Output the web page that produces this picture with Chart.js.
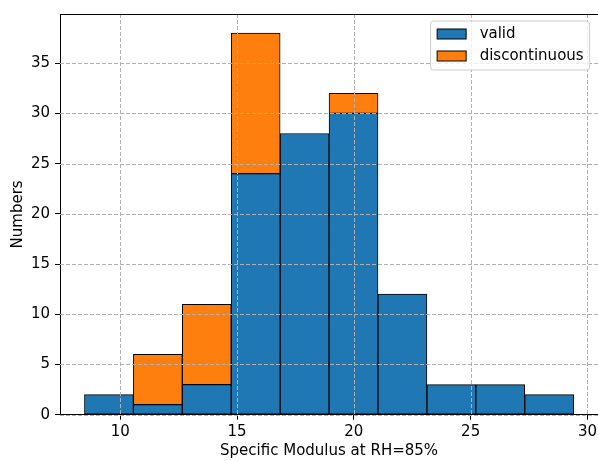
<!DOCTYPE html>
<html>
<head>
<meta charset="utf-8">
<script src="https://cdn.jsdelivr.net/npm/chart.js@4.4.0/dist/chart.umd.min.js"></script>
<style>
  html, body { margin: 0; padding: 0; background: #fff; overflow: hidden; }
</style>
</head>
<body>
<canvas id="hist" width="600" height="461"></canvas>
<script>
// histogram bins (edges)
const binEdges = [8.47, 10.564, 12.658, 14.752, 16.846, 18.94, 21.034, 23.128, 25.222, 27.316, 29.41];
const validCounts = [2, 1, 3, 24, 28, 30, 12, 3, 3, 2];
const discontinuousCounts = [0, 5, 8, 14, 0, 2, 0, 0, 0, 0];
const seriesNames = ['valid', 'discontinuous'];
const xTicks = [10, 15, 20, 25, 30];
const yTicks = [0, 5, 10, 15, 20, 25, 30, 35];

const BLUE = '#1f77b4';
const ORANGE = '#ff7f0e';
const FONT = { family: "'DejaVu Sans', sans-serif", size: 15 };

const centers = validCounts.map((_, i) => (binEdges[i] + binEdges[i + 1]) / 2);
const span = binEdges[binEdges.length - 1] - binEdges[0];
const totals = validCounts.map((v, i) => v + discontinuousCounts[i]);

// matplotlib-like grid drawn over the bars, top spine and boxed legend
const overlay = {
  id: 'overlay',
  afterDatasetsDraw(chart) {
    const { ctx, chartArea: a, scales: { x, y } } = chart;
    ctx.save();
    ctx.strokeStyle = '#b0b0b0';
    ctx.lineWidth = 1;
    ctx.setLineDash([4, 2]);
    xTicks.forEach(v => {
      const px = Math.round(x.getPixelForValue(v)) + 0.5;
      ctx.beginPath(); ctx.moveTo(px, a.top); ctx.lineTo(px, a.bottom); ctx.stroke();
    });
    yTicks.forEach(v => {
      const py = Math.round(y.getPixelForValue(v)) + 0.5;
      ctx.beginPath(); ctx.moveTo(a.left, py); ctx.lineTo(a.right, py); ctx.stroke();
    });
    ctx.setLineDash([]);
    ctx.strokeStyle = '#000';
    const top = Math.round(a.top) + 0.5;
    ctx.beginPath(); ctx.moveTo(a.left, top); ctx.lineTo(a.right, top); ctx.stroke();

    // legend
    const bx = a.right - 167.5, by = a.top + 7, bw = 159, bh = 49;
    ctx.fillStyle = 'rgba(255,255,255,0.8)';
    ctx.strokeStyle = '#cccccc';
    ctx.beginPath(); ctx.roundRect(bx, by, bw, bh, 3); ctx.fill(); ctx.stroke();
    const colors = [BLUE, ORANGE];
    ctx.font = FONT.size + 'px ' + FONT.family;
    ctx.textBaseline = 'middle';
    ctx.textAlign = 'left';
    seriesNames.forEach((name, i) => {
      const cy = by + 13 + i * 22;
      ctx.fillStyle = colors[i];
      ctx.fillRect(bx + 6.5, cy - 5, 29, 10);
      ctx.strokeStyle = '#000';
      ctx.strokeRect(bx + 6.5, cy - 5, 29, 10);
      ctx.fillStyle = '#000';
      ctx.fillText(name, bx + 49, cy);
    });
    ctx.restore();
  }
};

new Chart(document.getElementById('hist').getContext('2d'), {
  type: 'bar',
  data: {
    datasets: [
      { label: seriesNames[0], data: validCounts.map((v, i) => ({ x: centers[i], y: v })),
        backgroundColor: BLUE, borderColor: '#000', borderWidth: 1, borderSkipped: false },
      { label: seriesNames[1], data: discontinuousCounts.map((v, i) => ({ x: centers[i], y: v })),
        backgroundColor: ORANGE, borderColor: '#000', borderWidth: 1, borderSkipped: false }
    ]
  },
  options: {
    responsive: false,
    animation: false,
    barPercentage: 1,
    categoryPercentage: 1,
    layout: { padding: { top: 12.3, left: 0, right: 0, bottom: 0 } },
    plugins: { legend: { display: false }, tooltip: { enabled: false } },
    scales: {
      x: {
        type: 'linear', stacked: true, offset: false,
        min: binEdges[0] - 0.05 * span,
        max: binEdges[binEdges.length - 1] + 0.05 * span,
        afterBuildTicks: s => { s.ticks = xTicks.map(v => ({ value: v })); },
        afterFit: s => { s.height = 46.3; },
        ticks: { color: '#000', font: FONT, padding: 3, maxRotation: 0 },
        grid: { offset: false, drawOnChartArea: false, tickLength: 5, tickColor: '#000' },
        border: { color: '#000', width: 1 },
        title: { display: true, text: 'Specific Modulus at RH=85%', color: '#000', font: FONT, padding: { top: 0, bottom: 1 } }
      },
      y: {
        stacked: true,
        min: 0,
        max: Math.max(...totals) * 1.05,
        afterBuildTicks: s => { s.ticks = yTicks.map(v => ({ value: v })); },
        afterFit: s => { s.width = 60; },
        ticks: { color: '#000', font: FONT, padding: 5 },
        grid: { drawOnChartArea: false, tickLength: 5, tickColor: '#000' },
        border: { color: '#000', width: 1 },
        title: { display: true, text: 'Numbers', color: '#000', font: FONT, padding: { top: 9, bottom: 0 } }
      }
    }
  },
  plugins: [overlay]
});
</script>
</body>
</html>
